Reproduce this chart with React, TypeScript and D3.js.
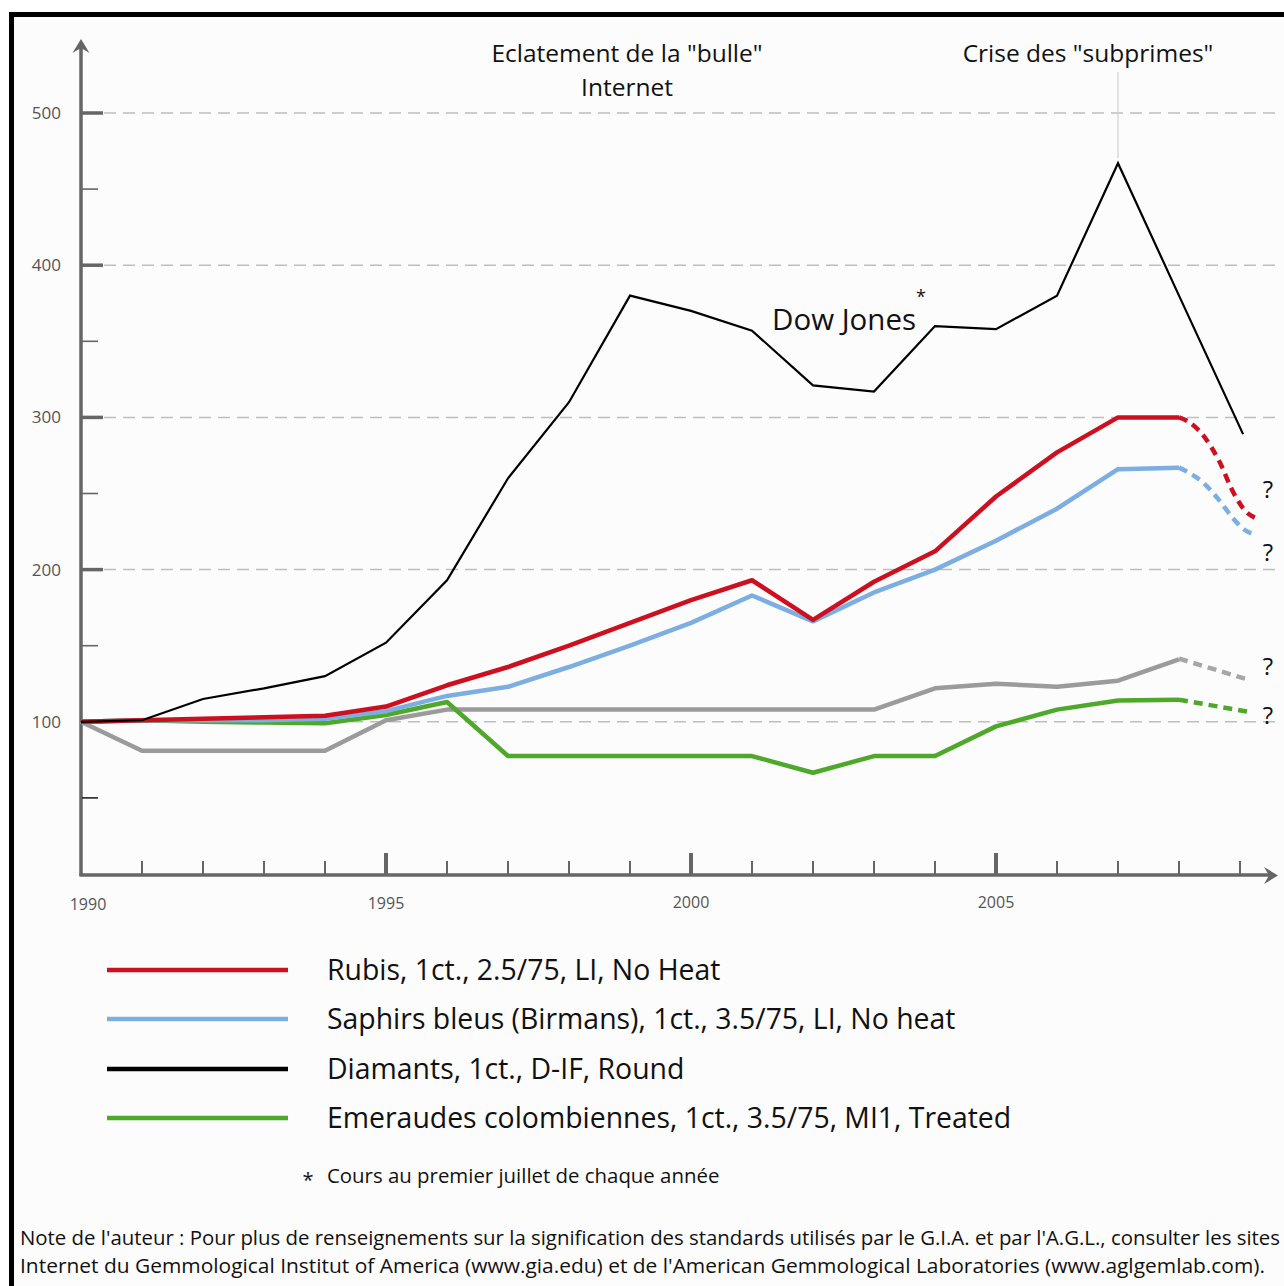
import React from "react";
import * as d3 from "d3";

const years = [1990,1991,1992,1993,1994,1995,1996,1997,1998,1999,2000,2001,2002,2003,2004,2005,2006,2007,2008];
const dowJonesYears = [...years, 2009.05];
const dowJones = [100,101,115,122,130,152,193,260,310,380,370,357,321,317,360,358,380,467,380,289];
const rubis = [100,101,102,103,104,110,124,136,150,165,180,193,167,192,212,248,277,300,300];
const saphirs = [100,101,101,101,102,107,117,123,136,150,165,183,166,185,200,219,240,266,267];
const grayLine = [100,81,81,81,81,101,108,108,108,108,108,108,108,108,122,125,123,127,141];
const emeraudes = [100,101,100,99.5,99,104.5,113,77.5,77.5,77.5,77.5,77.5,66.5,77.5,77.5,97,108,114,114.5];

// projected (dashed) segments: [year, value]
const rubisProj: [number, number][] = [[2008,300],[2008.12,298],[2008.4,288],[2008.65,272],[2008.9,250],[2009.1,238],[2009.25,234]];
const saphirsProj: [number, number][] = [[2008,267],[2008.15,264],[2008.4,257],[2008.65,246],[2008.88,234],[2009.08,226],[2009.25,223]];
const grayProj: [number, number][] = [[2008,141.5],[2009.15,127.5]];
const emeraudesProj: [number, number][] = [[2008,114.5],[2009.15,106.5]];

const yTicks = [100,200,300,400,500];
const yMinorTicks = [50,150,250,350,450];
const xMajorTicks = [1990,1995,2000,2005];
const xMinorTicks = [1991,1992,1993,1994,1996,1997,1998,1999,2001,2002,2003,2004,2006,2007,2008,2009];
const questionValues = [252, 211, 136, 103.5];

const legendItems = [
  { label: "Rubis, 1ct., 2.5/75, LI, No Heat", color: "#cc1020" },
  { label: "Saphirs bleus (Birmans), 1ct., 3.5/75, LI, No heat", color: "#7caee2" },
  { label: "Diamants, 1ct., D-IF, Round", color: "#000000" },
  { label: "Emeraudes colombiennes, 1ct., 3.5/75, MI1, Treated", color: "#4ea82a" },
];

const FONT = "'Open Sans', 'Noto Sans', sans-serif";

export default function App() {
  const W = 1284, H = 1286;
  const x = d3.scaleLinear().domain([1990, 2009]).range([81, 1240]);
  const y = d3.scaleLinear().domain([0, 500]).range([874, 113]);
  const line = d3.line<[number, number]>().x(d => x(d[0])).y(d => y(d[1]));
  const smooth = d3.line<[number, number]>().x(d => x(d[0])).y(d => y(d[1])).curve(d3.curveMonotoneX);
  const pts = (xs: number[], vs: number[]) => xs.map((yr, i) => [yr, vs[i]] as [number, number]);

  const axisColor = "#666";

  return (
    <svg width={W} height={H} style={{ display: "block", position: "absolute", left: 0, top: 0 }} fontFamily={FONT}>
      <rect x={0} y={0} width={W} height={H} fill="#fcfcfc" />
      <rect x={0} y={0} width={W} height={12} fill="#ffffff" />
      <rect x={0} y={0} width={9} height={H} fill="#ffffff" />
      {/* frame */}
      <line x1={9} y1={14.5} x2={W} y2={14.5} stroke="#000" strokeWidth={5} />
      <line x1={11.5} y1={12} x2={11.5} y2={H} stroke="#000" strokeWidth={5} />

      {/* gridlines */}
      {yTicks.map(t => (
        <line key={"g" + t} x1={104} x2={1282} y1={y(t)} y2={y(t)} stroke="#bdbdbd" strokeWidth={1.5} strokeDasharray="12 7" />
      ))}

      {/* subprime marker line */}
      <line x1={x(2007)} x2={x(2007)} y1={72} y2={158} stroke="#d0d0d0" strokeWidth={1.2} />

      {/* y axis */}
      <line x1={81} x2={81} y1={876} y2={46} stroke={axisColor} strokeWidth={3.5} />
      <path d="M81,39 L89.5,53 L81,48 L72.5,53 Z" fill={axisColor} />
      {yTicks.map(t => (
        <line key={"yt" + t} x1={82} x2={103} y1={y(t)} y2={y(t)} stroke={axisColor} strokeWidth={3.5} />
      ))}
      {yMinorTicks.map(t => (
        <line key={"ym" + t} x1={82} x2={98} y1={y(t)} y2={y(t)} stroke={t === 50 ? "#222" : axisColor} strokeWidth={1.6} />
      ))}
      {yTicks.map(t => (
        <text key={"yl" + t} x={61} y={y(t) + 6} textAnchor="end" fontSize={17} fill="#555">{t}</text>
      ))}

      {/* x axis */}
      <line x1={79.5} x2={1270} y1={875} y2={875} stroke={axisColor} strokeWidth={3.5} />
      <path d="M1278,875.5 L1264,867 L1269,875.5 L1264,884 Z" fill={axisColor} />
      {xMajorTicks.filter(t => t !== 1990).map(t => (
        <line key={"xt" + t} x1={x(t)} x2={x(t)} y1={853} y2={875} stroke={axisColor} strokeWidth={4} />
      ))}
      {xMinorTicks.map(t => (
        <line key={"xm" + t} x1={x(t)} x2={x(t)} y1={861} y2={875} stroke={axisColor} strokeWidth={2} />
      ))}
      {xMajorTicks.map((t, i) => (
        <text key={"xl" + t} x={x(t) + (i === 0 ? 7 : 0)} y={910 - i * 0.8} textAnchor="middle" fontSize={16} fill="#555">{t}</text>
      ))}

      {/* series */}
      <path d={line(pts(years, grayLine)) || ""} fill="none" stroke="#9b9b9b" strokeWidth={4.5} strokeLinejoin="round" />
      <path d={line(grayProj) || ""} fill="none" stroke="#a6a6a6" strokeWidth={4.5} strokeDasharray="9 6" />
      <path d={line(pts(years, emeraudes)) || ""} fill="none" stroke="#4ea82a" strokeWidth={4.5} strokeLinejoin="round" />
      <path d={line(emeraudesProj) || ""} fill="none" stroke="#4ea82a" strokeWidth={4.5} strokeDasharray="9 6" />
      <path d={line(pts(years, saphirs)) || ""} fill="none" stroke="#7caee2" strokeWidth={4.5} strokeLinejoin="round" />
      <path d={smooth(saphirsProj) || ""} fill="none" stroke="#7caee2" strokeWidth={4.5} strokeDasharray="9 6" />
      <path d={line(pts(years, rubis)) || ""} fill="none" stroke="#cc1020" strokeWidth={4.5} strokeLinejoin="round" />
      <path d={smooth(rubisProj) || ""} fill="none" stroke="#cc1020" strokeWidth={4.5} strokeDasharray="9 6" />
      <path d={line(pts(dowJonesYears, dowJones)) || ""} fill="none" stroke="#000" strokeWidth={2.2} strokeLinejoin="miter" />

      {/* question marks */}
      {questionValues.map((v, i) => (
        <text key={"q" + i} x={1268} y={y(v) + 8} textAnchor="middle" fontSize={24} fill="#111">?</text>
      ))}

      {/* annotations */}
      <text x={627} y={62} textAnchor="middle" fontSize={24.5} fill="#111">Eclatement de la "bulle"</text>
      <text x={627} y={96} textAnchor="middle" fontSize={24.5} fill="#111">Internet</text>
      <text x={1088} y={62} textAnchor="middle" fontSize={24.5} fill="#111">Crise des "subprimes"</text>
      <text x={772} y={330} fontSize={29.5} fill="#111">Dow Jones</text>
      <text x={921} y={303} textAnchor="middle" fontSize={18} fill="#111">*</text>

      {/* legend */}
      {legendItems.map((it, i) => {
        const ly = [970, 1019, 1069, 1118][i];
        return (
          <g key={"lg" + i}>
            <line x1={107} x2={288} y1={ly} y2={ly} stroke={it.color} strokeWidth={4.5} />
            <text x={327} y={ly + 10} fontSize={28.4} fill="#111">{it.label}</text>
          </g>
        );
      })}
      <text x={308} y={1187} textAnchor="middle" fontSize={20} fill="#111">*</text>
      <text x={327} y={1183} fontSize={20.4} fill="#111">Cours au premier juillet de chaque année</text>

      <text x={20} y={1245} fontSize={20} fill="#111" textLength={1260} lengthAdjust="spacingAndGlyphs">Note de l'auteur : Pour plus de renseignements sur la signification des standards utilisés par le G.I.A. et par l'A.G.L., consulter les sites</text>
      <text x={20} y={1273} fontSize={20} fill="#111" textLength={1245} lengthAdjust="spacingAndGlyphs">Internet du Gemmological Institut of America (www.gia.edu) et de l'American Gemmological Laboratories (www.aglgemlab.com).</text>
    </svg>
  );
}
